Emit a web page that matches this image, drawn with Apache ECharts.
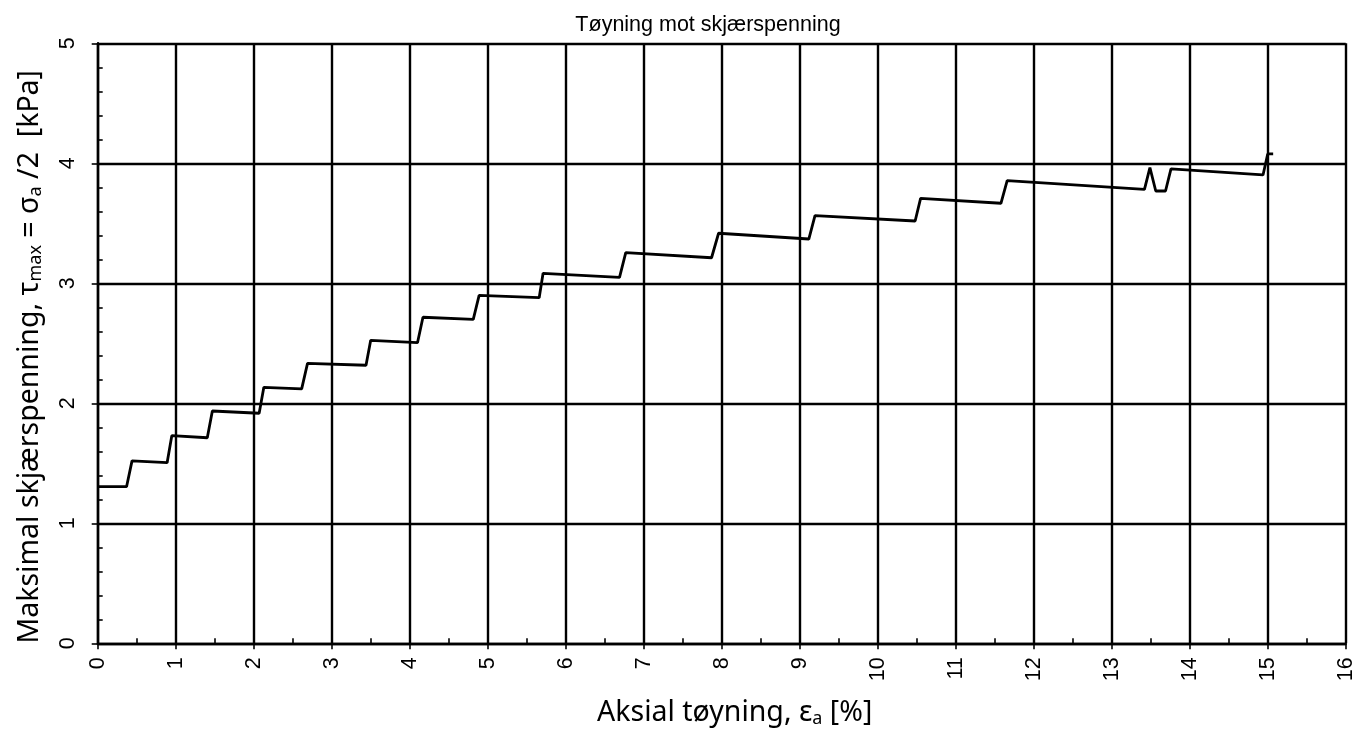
<!DOCTYPE html>
<html>
<head>
<meta charset="utf-8">
<script src="https://cdn.jsdelivr.net/npm/echarts@6/dist/echarts.min.js"></script>
<style>html,body{margin:0;padding:0;background:#fff}#c{width:1366px;height:735px}</style>
</head>
<body>
<div id="c"></div>
<script>
// Data
const chartTitle = 'Tøyning mot skjærspenning';
const xAxisName = '{n|Aksial tøyning, ε}{s|a}{n| [%]}';
const yAxisName = '{n|Maksimal skjærspenning, τ}{s|max}{n| = σ}{s|a}{n| /2  [kPa]}';
const xMin = 0, xMax = 16, xStep = 1;
const yMin = 0, yMax = 5, yStep = 1;

// Axial strain (%)
const strain = [0, 0.37, 0.44, 0.89, 0.95, 1.405, 1.47, 2.07, 2.13, 2.615, 2.69, 3.44, 3.50, 4.10, 4.17,
  4.815, 4.89, 5.66, 5.71, 6.69, 6.77, 7.87, 7.96, 9.117, 9.196, 10.48, 10.55, 11.58, 11.66,
  13.42, 13.49, 13.565, 13.69, 13.76, 14.94, 15.0, 15.07];
// Max shear stress (kPa)
const shear = [1.305, 1.305, 1.52, 1.505, 1.73, 1.713, 1.936, 1.917, 2.133, 2.12, 2.333, 2.317, 2.525, 2.505, 2.717,
  2.70, 2.90, 2.88, 3.083, 3.05, 3.255, 3.213, 3.417, 3.369, 3.564, 3.519, 3.708, 3.667, 3.856,
  3.783, 3.964, 3.769, 3.769, 3.953, 3.903, 4.078, 4.078];

const seriesData = strain.map((x, i) => [x, shear[i]]);

const nameRich = {
  n: { fontFamily: 'Noto Sans', fontSize: 28.5, color: '#000', lineHeight: 38 },
  s: { fontFamily: 'Noto Sans', fontSize: 18, color: '#000', lineHeight: 38, padding: [12, 0, 0, 0] }
};
const labelFont = { fontFamily: 'Liberation Sans', fontSize: 21.5, color: '#000' };

const chart = echarts.init(document.getElementById('c'), null, { renderer: 'canvas' });
chart.setOption({
  animation: false,
  backgroundColor: '#fff',
  title: {
    text: chartTitle,
    left: 703,
    top: 9,
    textAlign: 'center',
    textStyle: { fontFamily: 'Liberation Sans', fontSize: 21.5, fontWeight: 'normal', color: '#000' }
  },
  grid: { left: 97.7, right: 20.3, top: 43.3, bottom: 91.7, containLabel: false, outerBoundsMode: 'none' },
  xAxis: {
    type: 'value', min: xMin, max: xMax, interval: xStep,
    axisLine: { onZero: false, lineStyle: { color: '#000', width: 2.4 } },
    axisTick: { show: true, length: 6, lineStyle: { color: '#000', width: 1.6 } },
    minorTick: { show: true, splitNumber: 2, length: -5, lineStyle: { color: '#000', width: 1.6 } },
    splitLine: { show: true, lineStyle: { color: '#000', width: 2.4 } },
    axisLabel: Object.assign({ rotate: 90, margin: 14 }, labelFont),
    name: xAxisName,
    nameLocation: 'middle',
    nameGap: 51,
    nameTextStyle: { rich: nameRich, padding: [0, 0, 0, 26] }
  },
  yAxis: {
    type: 'value', min: yMin, max: yMax, interval: yStep,
    axisLine: { onZero: false, lineStyle: { color: '#000', width: 2.4 } },
    axisTick: { show: true, length: 6, lineStyle: { color: '#000', width: 1.6 } },
    minorTick: { show: true, splitNumber: 5, length: -5, lineStyle: { color: '#000', width: 1.6 } },
    splitLine: { show: true, lineStyle: { color: '#000', width: 2.4 } },
    axisLabel: Object.assign({ rotate: 90, margin: 19 }, labelFont),
    name: yAxisName,
    nameLocation: 'middle',
    nameRotate: 90,
    nameGap: 49,
    nameTextStyle: { rich: nameRich, padding: [0, 27, 0, 0] }
  },
  series: [{
    type: 'line',
    data: seriesData,
    showSymbol: false,
    symbol: 'none',
    lineStyle: { color: '#000', width: 2.8 },
    z: 5
  }]
});
</script>
</body>
</html>
